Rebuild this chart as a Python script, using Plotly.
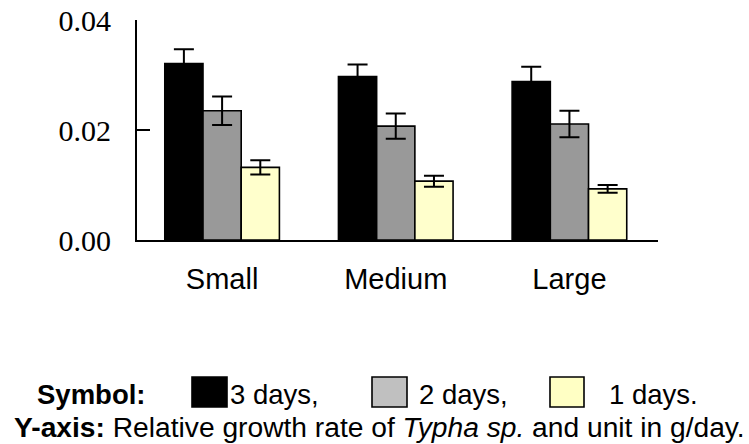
import plotly.graph_objects as go

# Typha sp. relative growth rate (g/day) by plant size and exposure duration
sizes = ["Small", "Medium", "Large"]
series_names = ["3 days", "2 days", "1 days"]
rate_3d = [0.0321, 0.0297, 0.0288]
rate_2d = [0.0235, 0.0207, 0.0211]
rate_1d = [0.0132, 0.0107, 0.0093]
err_3d = [0.0026, 0.0022, 0.0027]
err_2d = [0.0026, 0.0023, 0.0024]
err_1d = [0.0013, 0.0010, 0.0007]
y_ticks = [0.00, 0.02, 0.04]
y_ticktext = ["0.00", "0.02", "0.04"]

bar_colors = ["#000000", "#999999", "#ffffcc"]
swatch_colors = ["#000000", "#c0c0c0", "#ffffc4"]

W, H = 749, 444
L, R, T, B = 137, 91, 20, 204
PW, PH = W - L - R, H - T - B


def px(x):
    return (x - L) / PW


def py(y):
    return (H - B - y) / PH


fig = go.Figure()
for name, vals, errs, col in zip(series_names, [rate_3d, rate_2d, rate_1d],
                                 [err_3d, err_2d, err_1d], bar_colors):
    fig.add_trace(go.Bar(
        x=sizes, y=vals, name=name,
        marker=dict(color=col, line=dict(color="black", width=1.6)),
        error_y=dict(type="data", array=errs, visible=True,
                     color="black", thickness=2, width=10),
    ))

font_txt = "Liberation Sans, Arial, sans-serif"

annotations = [
    dict(text="<b>Symbol:</b>", x=px(35), y=py(394), size=27.5),
    dict(text="3 days,", x=px(228), y=py(394), size=27.5),
    dict(text="2 days,", x=px(417), y=py(394), size=27.5),
    dict(text="1 days.", x=px(607), y=py(394), size=27.5),
    dict(text="<b>Y-axis:</b> Relative growth rate of <i>Typha sp.</i> and unit in g/day.",
         x=px(12), y=py(427), size=28.2),
]
for a in annotations:
    size = a.pop("size")
    a.update(xref="paper", yref="paper", xanchor="left", yanchor="middle",
             showarrow=False, font=dict(family=font_txt, size=size, color="black"))

swatches = [(192, 227), (372, 407), (550, 584)]
shapes = []
for (x0, x1), col in zip(swatches, swatch_colors):
    shapes.append(dict(type="rect", xref="paper", yref="paper",
                       x0=px(x0), x1=px(x1), y0=py(377), y1=py(407),
                       fillcolor=col, line=dict(color="black", width=1.6)))

fig.update_layout(
    width=W, height=H,
    margin=dict(l=L, r=R, t=T, b=B),
    plot_bgcolor="white", paper_bgcolor="white",
    barmode="group", bargap=0.34, bargroupgap=0,
    showlegend=False,
    annotations=annotations,
    shapes=shapes,
    xaxis=dict(
        range=[-0.49, 2.51], showline=True, linecolor="black", linewidth=2,
        ticks="", showgrid=False, zeroline=False, automargin=False,
        tickfont=dict(family=font_txt, size=29, color="black"),
        ticklabelstandoff=12,
    ),
    yaxis=dict(
        range=[0, 0.04], showline=True, linecolor="black", linewidth=2,
        ticks="inside", ticklen=13, tickwidth=2, tickcolor="black",
        tickvals=y_ticks, ticktext=y_ticktext,
        showgrid=False, zeroline=False, automargin=False,
        tickfont=dict(family="Liberation Serif, Times New Roman, serif", size=30, color="black"),
        ticklabelstandoff=18,
    ),
)

fig.write_html("out.html")
